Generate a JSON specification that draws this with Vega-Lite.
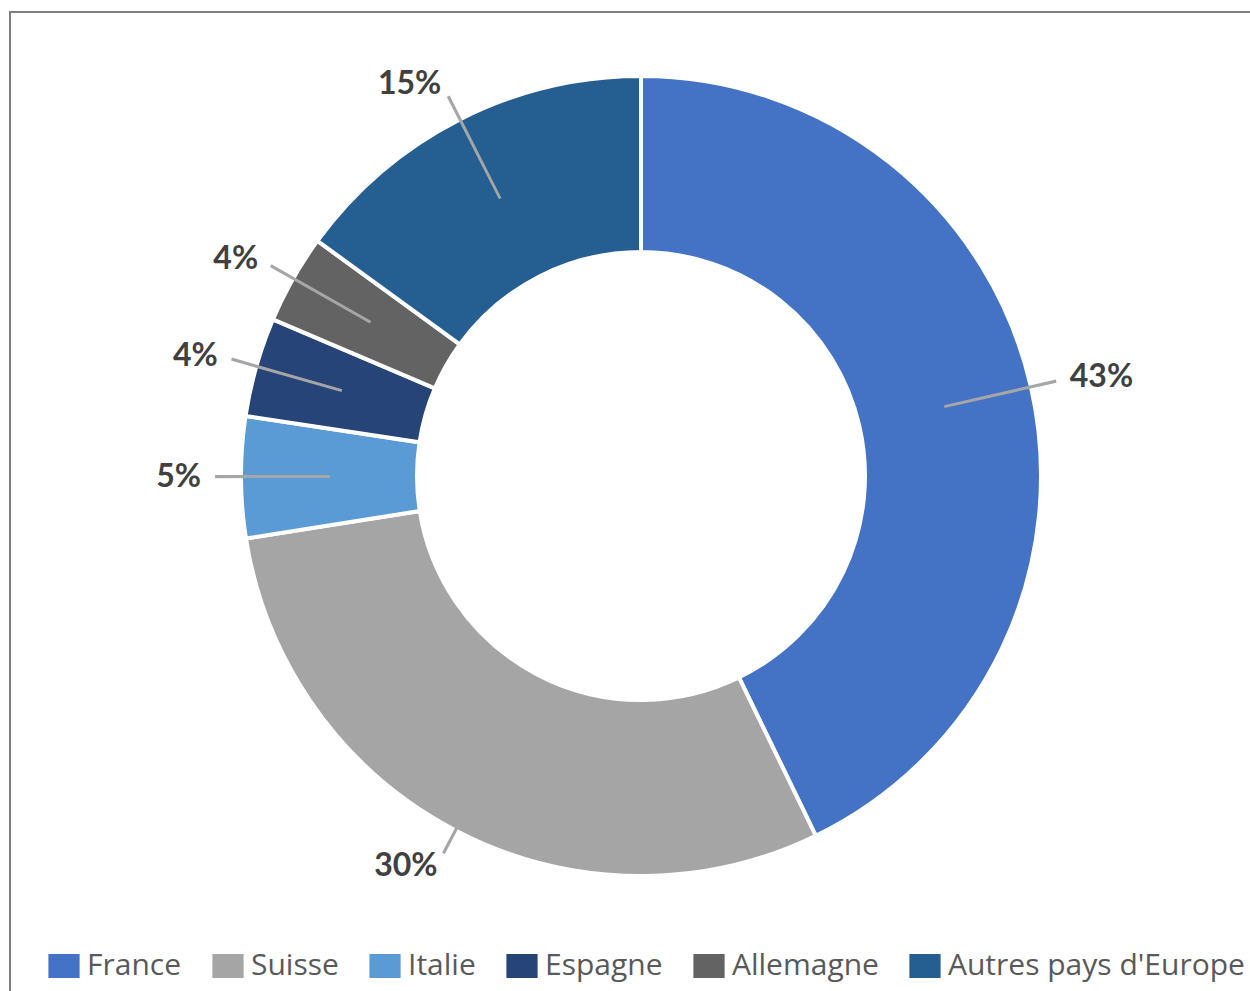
{
  "$schema": "https://vega.github.io/schema/vega-lite/v6.json",
  "width": 1262,
  "height": 1000,
  "autosize": "none",
  "padding": {"left": 10, "top": 12, "right": 0, "bottom": 0},
  "background": "white",
  "view": {"stroke": "#7f7f7f", "strokeWidth": 2},
  "data": {
    "values": [
      {"order": 1, "pays": "France", "part": 0.428},
      {"order": 2, "pays": "Suisse", "part": 0.297},
      {"order": 3, "pays": "Italie", "part": 0.049},
      {"order": 4, "pays": "Espagne", "part": 0.040},
      {"order": 5, "pays": "Allemagne", "part": 0.036},
      {"order": 6, "pays": "Autres pays d'Europe", "part": 0.150}
    ]
  },
  "transform": [
    {"window": [{"op": "sum", "field": "part", "as": "cum"}], "sort": [{"field": "order"}], "frame": [null, 0]},
    {"calculate": "datum.cum - datum.part", "as": "start"},
    {"calculate": "datum.cum - datum.part / 2", "as": "mid"},
    {"calculate": "datum.mid + 0.0005", "as": "mid2"}
  ],
  "layer": [
    {
      "mark": {"type": "arc", "x": 631, "y": 464, "innerRadius": 224, "outerRadius": 400, "stroke": "white", "strokeWidth": 4},
      "encoding": {
        "theta": {"field": "start", "type": "quantitative", "stack": null, "scale": {"domain": [0, 1], "range": [0, 6.283185307]}},
        "theta2": {"field": "cum"},
        "color": {
          "field": "pays",
          "type": "nominal",
          "sort": ["France", "Suisse", "Italie", "Espagne", "Allemagne", "Autres pays d'Europe"],
          "scale": {
            "domain": ["France", "Suisse", "Italie", "Espagne", "Allemagne", "Autres pays d'Europe"],
            "range": ["#4472C4", "#A5A5A5", "#5B9BD5", "#264478", "#636363", "#255E91"]
          },
          "legend": {
            "orient": "none",
            "legendX": 39,
            "legendY": 939,
            "direction": "horizontal",
            "title": null,
            "symbolType": "M-1.3,-1H1.3V1H-1.3Z",
            "symbolSize": 576,
            "symbolStrokeWidth": 0,
            "symbolOpacity": 1,
            "labelFont": "Open Sans",
            "labelFontSize": 30,
            "labelColor": "#595959",
            "labelOffset": 8,
            "labelLimit": 500,
            "columnPadding": 30
          }
        }
      }
    },
    {
      "mark": {"type": "arc", "x": 631, "y": 464, "innerRadius": 312, "outerRadius": 425, "fill": "#a6a6a6", "stroke": "#a6a6a6", "strokeWidth": 1.8},
      "encoding": {
        "theta": {"field": "mid", "type": "quantitative", "stack": null, "scale": {"domain": [0, 1], "range": [0, 6.283185307]}},
        "theta2": {"field": "mid2"}
      }
    },
    {
      "transform": [{"filter": "datum.mid < 0.5"}],
      "mark": {"type": "text", "x": 631, "y": 464, "radius": 440, "align": "left", "baseline": "middle", "font": "Lato", "fontWeight": "bold", "fontSize": 32, "color": "#404040"},
      "encoding": {
        "theta": {"field": "mid", "type": "quantitative", "stack": null, "scale": {"domain": [0, 1], "range": [0, 6.283185307]}},
        "text": {"field": "part", "type": "quantitative", "format": ".0%"}
      }
    },
    {
      "transform": [{"filter": "datum.mid >= 0.5"}],
      "mark": {"type": "text", "x": 631, "y": 464, "radius": 440, "align": "right", "baseline": "middle", "font": "Lato", "fontWeight": "bold", "fontSize": 32, "color": "#404040"},
      "encoding": {
        "theta": {"field": "mid", "type": "quantitative", "stack": null, "scale": {"domain": [0, 1], "range": [0, 6.283185307]}},
        "text": {"field": "part", "type": "quantitative", "format": ".0%"}
      }
    }
  ]
}
